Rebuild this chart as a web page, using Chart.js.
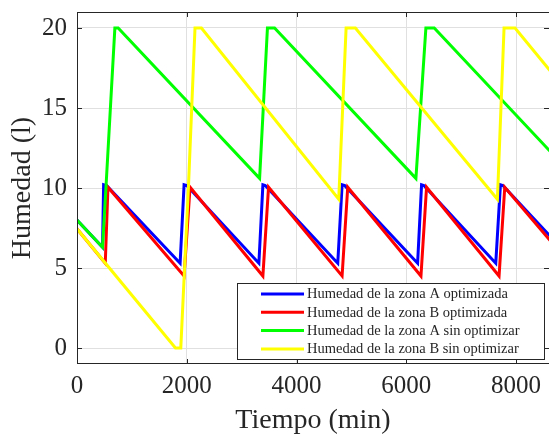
<!DOCTYPE html>
<html>
<head>
<meta charset="utf-8">
<script src="https://cdn.jsdelivr.net/npm/chart.js@4.4.0/dist/chart.umd.min.js"></script>
<style>
  body { margin: 0; background: #fff; }
</style>
</head>
<body>
<canvas id="humedadChart" width="549" height="435"></canvas>
<script>
// Axis ticks
const xTicks = [0, 2000, 4000, 6000, 8000];
const yTicks = [0, 5, 10, 15, 20];

// Zona A optimizada (blue)
const zonaAOptTiempo  = [0, 465, 485, 540, 1879, 1951, 2000, 3314, 3387, 3430, 4751, 4830, 4880, 6206, 6278, 6320, 7630, 7715, 7760, 8700];
const zonaAOptHumedad = [8.0, 6.3, 10.2, 10.15, 5.3, 10.2, 10.15, 5.3, 10.2, 10.15, 5.3, 10.2, 10.15, 5.3, 10.2, 10.15, 5.3, 10.2, 10.15, 6.7];

// Zona B optimizada (red)
const zonaBOptTiempo  = [0, 515, 564, 1951, 2060, 3387, 3490, 4830, 4933, 6267, 6369, 7690, 7794, 8700];
const zonaBOptHumedad = [7.45, 5.3, 10.05, 4.5, 10.05, 4.5, 10.05, 4.5, 10.05, 4.5, 10.05, 4.5, 10.05, 6.4];

// Zona A sin optimizar (green)
const zonaASinTiempo  = [0, 465, 527, 690, 750, 3327, 3470, 3600, 6175, 6357, 6509, 8700];
const zonaASinHumedad = [8.0, 6.3, 10.0, 20, 20, 10.6, 20, 20, 10.6, 20, 20, 12.0];

// Zona B sin optimizar (yellow)
const zonaBSinTiempo  = [0, 1794, 1891, 1960, 2030, 2150, 2267, 4769, 4903, 5072, 7660, 7781, 7981, 8700];
const zonaBSinHumedad = [7.45, 0, 0, 5, 10, 20, 20, 9.3, 20, 20, 9.3, 20, 20, 17.0];

const seriesLabels = [
    'Humedad de la zona A optimizada',
    'Humedad de la zona B optimizada',
    'Humedad de la zona A sin optimizar',
    'Humedad de la zona B sin optimizar'
];
const seriesColors = ['#0000ff', '#ff0000', '#00ff00', '#ffff00'];

const serif = '"Liberation Serif", "Times New Roman", serif';
const axisColor = '#262626';

function toPoints(t, h) {
    return t.map((x, i) => ({ x: x, y: h[i] }));
}

// MATLAB style box, inward ticks and the legend inside the axes
const matlabBox = {
    id: 'matlabBox',
    afterDraw(chart) {
        const ctx = chart.ctx;
        const area = chart.chartArea;
        const xs = chart.scales.x;
        const ys = chart.scales.y;
        const tl = 5;

        ctx.save();
        ctx.strokeStyle = axisColor;
        ctx.lineWidth = 1;
        ctx.beginPath();
        // left, top, bottom lines
        ctx.moveTo(area.left + 0.5, area.top);
        ctx.lineTo(area.left + 0.5, area.bottom);
        ctx.moveTo(area.left, area.top + 0.5);
        ctx.lineTo(area.right, area.top + 0.5);
        ctx.moveTo(area.left, area.bottom - 0.5);
        ctx.lineTo(area.right, area.bottom - 0.5);
        // x ticks, top and bottom
        xTicks.forEach(v => {
            const px = Math.round(xs.getPixelForValue(v)) + 0.5;
            ctx.moveTo(px, area.top);
            ctx.lineTo(px, area.top + tl);
            ctx.moveTo(px, area.bottom);
            ctx.lineTo(px, area.bottom - tl);
        });
        // y ticks, left and right
        yTicks.forEach(v => {
            const py = Math.round(ys.getPixelForValue(v)) + 0.5;
            ctx.moveTo(area.left, py);
            ctx.lineTo(area.left + tl, py);
            ctx.moveTo(area.right, py);
            ctx.lineTo(area.right - tl, py);
        });
        ctx.stroke();

        // legend
        const boxW = 307, boxH = 76;
        const bx = area.right - 5 - boxW;
        const by = area.bottom - 5 - boxH;
        ctx.fillStyle = '#ffffff';
        ctx.fillRect(bx, by, boxW, boxH);
        ctx.strokeStyle = '#262626';
        ctx.strokeRect(bx + 0.5, by + 0.5, boxW, boxH);
        ctx.font = '14.5px ' + serif;
        ctx.textBaseline = 'middle';
        ctx.textAlign = 'left';
        seriesLabels.forEach((label, i) => {
            const ry = by + 11 + i * 18.3;
            ctx.strokeStyle = seriesColors[i];
            ctx.lineWidth = 3;
            ctx.beginPath();
            ctx.moveTo(bx + 24, ry);
            ctx.lineTo(bx + 67, ry);
            ctx.stroke();
            ctx.fillStyle = axisColor;
            ctx.fillText(label, bx + 70, ry + 0.5);
        });
        ctx.restore();
    }
};

const series = [
    [zonaAOptTiempo, zonaAOptHumedad],
    [zonaBOptTiempo, zonaBOptHumedad],
    [zonaASinTiempo, zonaASinHumedad],
    [zonaBSinTiempo, zonaBSinHumedad]
];

const ctx = document.getElementById('humedadChart').getContext('2d');
const humedadChart = new Chart(ctx, {
    type: 'line',
    data: {
        datasets: series.map((s, i) => ({
            label: seriesLabels[i],
            data: toPoints(s[0], s[1]),
            borderColor: seriesColors[i],
            borderWidth: 3,
            pointRadius: 0,
            tension: 0,
            fill: false,
            order: 3 - i
        }))
    },
    options: {
        responsive: false,
        animation: false,
        devicePixelRatio: 1,
        layout: { padding: { top: 12, right: 0, left: 0, bottom: 0 } },
        plugins: {
            legend: { display: false },
            tooltip: { enabled: false }
        },
        scales: {
            x: {
                type: 'linear',
                min: 0,
                max: 8600,
                afterBuildTicks: scale => { scale.ticks = xTicks.map(v => ({ value: v })); },
                afterFit: scale => {
                    scale.height = 71;
                    scale.paddingLeft = 0;
                    scale.paddingRight = 0;
                },
                grid: { color: '#e0e0e0', drawTicks: false },
                border: { display: false },
                ticks: {
                    padding: 7,
                    color: axisColor,
                    font: { family: serif, size: 25 },
                    maxRotation: 0,
                    callback: v => String(v)
                },
                title: {
                    display: true,
                    text: 'Tiempo (min)',
                    color: axisColor,
                    font: { family: serif, size: 28, lineHeight: 1 },
                    padding: { top: 0, bottom: 0 }
                }
            },
            y: {
                type: 'linear',
                min: -1,
                max: 21,
                afterBuildTicks: scale => { scale.ticks = yTicks.map(v => ({ value: v })); },
                afterFit: scale => {
                    scale.width = 77;
                    scale.paddingTop = 0;
                    scale.paddingBottom = 0;
                },
                grid: { color: '#e0e0e0', drawTicks: false },
                border: { display: false },
                ticks: {
                    padding: 10,
                    color: axisColor,
                    font: { family: serif, size: 25 },
                    callback: v => String(v)
                },
                title: {
                    display: true,
                    text: 'Humedad (l)',
                    color: axisColor,
                    font: { family: serif, size: 28, lineHeight: 1 },
                    padding: { top: 9, bottom: 0 }
                }
            }
        }
    },
    plugins: [matlabBox]
});
</script>
</body>
</html>
